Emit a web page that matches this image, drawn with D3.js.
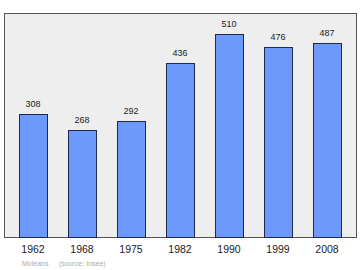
<!DOCTYPE html>
<html><head><meta charset="utf-8">
<script src="https://cdn.jsdelivr.net/npm/d3@7"></script>
<style>body{margin:0;background:#fff}svg{display:block}</style>
</head><body>
<script>
const years = ["1962","1968","1975","1982","1990","1999","2008"];
const population = [308,268,292,436,510,476,487];
const commune = "Moléans";
const source = "(source: Insee)";

const W=360,H=270;
const FONT="Liberation Sans, Arial, sans-serif";
const svg=d3.select("body").append("svg").attr("width",W).attr("height",H);
const plot={left:4.5,top:13.5,right:356.5,bottom:237.5};
svg.append("rect").attr("x",plot.left).attr("y",plot.top)
  .attr("width",plot.right-plot.left).attr("height",plot.bottom-plot.top)
  .attr("fill","#eeeeee").attr("stroke","#555").attr("stroke-width",1);

const x=d3.scaleBand().domain(years).range([8.5,351.5]).paddingInner(0.43).paddingOuter(0.215);
const y=d3.scaleLinear().domain([0,560]).range([237.5,13.5]);

svg.append("g").selectAll("rect").data(population).join("rect")
  .attr("x",(d,i)=>Math.round(x(years[i]))+0.5)
  .attr("y",d=>Math.round(y(d))+0.5)
  .attr("width",Math.round(x.bandwidth()))
  .attr("height",d=>y(0)-Math.round(y(d))-0.5)
  .attr("fill","#6d99fd").attr("stroke","#1f2a4a").attr("stroke-width",1);

svg.append("g").selectAll("text").data(population).join("text")
  .attr("x",(d,i)=>x(years[i])+x.bandwidth()/2)
  .attr("y",d=>y(d)-7)
  .attr("text-anchor","middle").attr("font-family",FONT)
  .attr("font-size",9).attr("fill","#222").text(d=>d);

const xAxis=svg.append("g").attr("transform",`translate(0,${plot.bottom})`)
  .call(d3.axisBottom(x).tickSize(0).tickPadding(8));
xAxis.select(".domain").remove();
xAxis.selectAll("text").attr("font-family",FONT).attr("font-size",10.5).attr("fill","#222");

svg.append("text").attr("x",22).attr("y",266).attr("font-family",FONT)
  .attr("font-size",7).attr("fill","#aaa").text(commune);
svg.append("text").attr("x",59).attr("y",266).attr("font-family",FONT)
  .attr("font-size",7).attr("fill","#aaa").text(source);
</script>
</body></html>
